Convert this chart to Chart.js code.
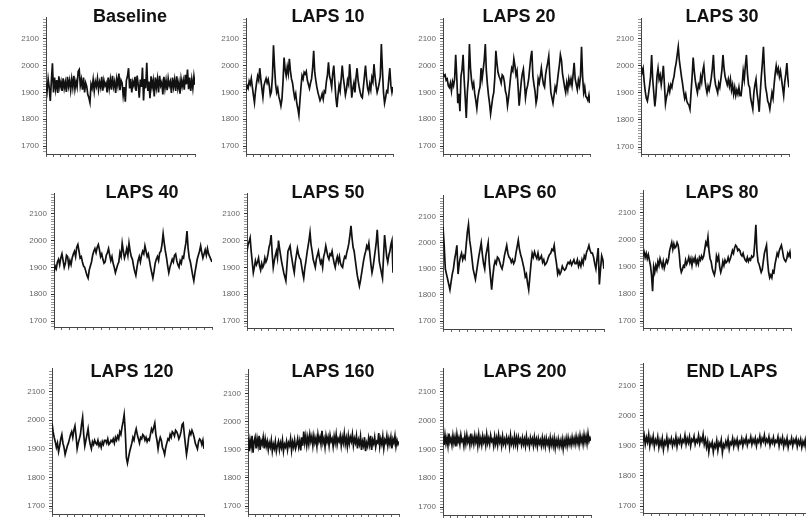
<!DOCTYPE html>
<html>
<head>
<meta charset="utf-8">
<script src="https://cdn.jsdelivr.net/npm/chart.js@4/dist/chart.umd.min.js"></script>
<style>
html,body{margin:0;padding:0;background:#fff;}
body{width:806px;height:529px;position:relative;overflow:hidden;}
.panel{position:absolute;}
.title{position:absolute;width:200px;text-align:center;font:bold 18px "Liberation Sans",Arial,sans-serif;line-height:18px;color:#111;white-space:nowrap;}
</style>
</head>
<body>
<script>
// ---------- DATA ----------
const titles = ["Baseline","LAPS 10","LAPS 20","LAPS 30","LAPS 40","LAPS 50","LAPS 60","LAPS 80","LAPS 120","LAPS 160","LAPS 200","END LAPS"];
const yTickLabels = [1700,1800,1900,2000,2100];

const baseline = [
1935,1905,1950,1918,1868,1942,2008,1900,1955,1912,1946,1898,1960,1920,1940,1905,1952,1915,1938,1902,
1958,1922,1945,1908,1950,1918,1962,1912,1940,1920,1978,1985,1925,1948,1910,1955,1900,1935,1922,1892,
1880,1862,1930,1915,1948,1905,1940,1922,1952,1910,1938,1918,1958,1906,1945,1925,1935,1900,1955,1915,
1948,1910,1962,1920,1940,1898,1950,1925,1970,1908,1945,1935,1888,1920,1865,1945,1960,1990,1915,1950,
1900,1940,1925,1958,1905,1962,1930,1880,1948,1920,1992,1870,1950,1915,2010,1905,1940,1878,1960,1920,
1945,1885,1955,1918,1950,1900,1962,1925,1938,1892,1958,1915,1945,1908,1952,1925,1940,1898,1955,1920,
1948,1905,1960,1915,1938,1895,1950,1922,1945,1910,1965,1930,1985,1912,1955,1905,1948,1915,1960,1928];

const laps10 = [
1905,1925,1915,1942,1930,1952,1920,1890,1862,1905,1935,1960,1945,1990,1950,1915,1882,1925,1940,1952,
1935,1948,1925,1890,1902,1960,2075,1995,1930,1900,1915,1885,1870,1850,1875,1940,2030,1985,1962,1995,
1970,2025,1980,1950,1935,1905,1880,1895,1860,1840,1815,1870,1920,1962,1950,1975,1968,1978,1945,1930,
1915,1935,1950,1990,2055,1975,1945,1920,1900,1885,1870,1880,1895,1875,1905,1900,1940,1965,2012,1960,
1945,1920,1970,2000,1940,1880,1845,1890,1925,1905,1950,2000,1955,1925,1890,1910,1945,1930,2005,1950,
1880,1915,1935,1900,1955,1990,1945,1920,1900,1885,1880,1920,1960,2000,1950,1915,1900,1930,1910,1955,
1940,2005,1960,1925,1900,1915,1935,1960,2080,1985,1900,1860,1880,1905,1900,1950,1990,1925,1900,1920];

const laps20 = [
1972,1960,1965,1945,1950,1925,1918,1935,1905,1940,1925,1950,2040,1960,1860,1895,1830,1960,1985,2040,
1950,1880,1805,1900,1950,2080,1990,1945,1920,1935,1895,1870,1840,1880,1905,1920,1990,1950,1985,2020,
2080,1980,1930,1890,1860,1820,1850,1880,1900,1955,2055,2010,1975,1960,1950,1935,1965,1960,1940,1905,
1890,1850,1880,1920,1960,1990,1980,2025,2000,1965,1980,1920,1850,1895,1940,1970,1987,1935,1880,1910,
1925,1950,1990,2030,2055,1960,1930,1905,1860,1880,1950,1935,1960,1990,1955,1930,1920,1965,1990,2010,
2035,1960,1900,1880,1860,1890,1920,1905,1935,1970,2000,2040,2020,1970,1945,1920,1900,1935,1910,1950,
1930,1950,1925,1965,2010,1950,1930,1910,1945,1925,1960,2070,1960,1900,1920,1885,1880,1870,1890,1860];

const laps30 = [
2000,1975,1990,1940,1905,1880,1870,1895,1925,1960,2040,1950,1900,1850,1890,1960,1990,1950,1965,1930,
1960,2000,1930,1860,1885,1900,1925,1905,1930,1920,1945,1960,1990,2010,2040,2070,2020,1990,1960,1935,
1905,1880,1895,1870,1860,1855,1840,1900,1960,2030,1980,1945,1920,1900,1930,1920,1960,1940,1980,2000,
1950,1920,1900,1925,1910,1930,1955,1990,2040,1960,1930,1915,1900,1935,1920,1950,1985,2040,1990,1960,
1945,1930,1950,1925,1950,1910,1930,1895,1920,1890,1910,1895,1920,1890,1890,1930,1980,1950,2000,2040,
1970,1930,1920,1880,1860,1840,1900,1930,1950,1900,1870,1830,1900,1960,2010,2070,1980,1920,1900,1870,
1860,1840,1870,1900,1880,1930,1970,2000,1975,1990,1960,1980,1950,1920,1890,1940,1970,2010,1950,1920];

const laps40 = [
1880,1905,1895,1920,1930,1910,1935,1950,1925,1900,1915,1945,1940,1905,1925,1910,1935,1950,1960,1940,
1975,1985,1960,1935,1940,1920,1905,1900,1885,1870,1860,1890,1905,1920,1945,1960,1970,1955,1975,1985,
1965,1940,1950,1930,1915,1920,1945,1955,1970,1945,1925,1940,1915,1900,1880,1895,1910,1920,1955,1940,
1990,1960,1935,1950,1970,1945,1990,1960,1940,1930,1905,1885,1870,1900,1925,1940,1920,1945,1960,1950,
1980,1960,1940,1950,1925,1900,1880,1860,1885,1915,1930,1940,1925,1955,1960,1985,2025,1990,1960,1935,
1905,1880,1900,1915,1930,1920,1945,1950,1925,1910,1900,1925,1915,1940,1935,1965,1990,2035,1970,1935,
1920,1895,1870,1850,1880,1905,1930,1945,1960,1980,1955,1935,1950,1965,1945,1970,1950,1940,1930,1920];

const laps50 = [
1960,1985,1995,2010,1960,1920,1880,1900,1925,1910,1920,1935,1905,1890,1915,1900,1910,1935,1920,1930,
1950,1975,1990,2020,1950,1900,1925,1945,1960,1935,2000,1970,1945,1920,1900,1880,1865,1850,1905,1960,
1970,1980,1950,1925,1900,1880,1920,1945,1970,1950,1935,1930,1905,1880,1860,1895,1920,1950,1975,2000,
2030,1985,1960,1930,1915,1900,1930,1945,1960,1935,1915,1925,1900,1940,1955,1980,1960,1940,1930,1950,
1945,1960,1935,1915,1900,1925,1940,1920,1940,1915,1905,1900,1925,1940,1935,1955,1970,1990,2020,2055,
2010,1975,1960,1930,1900,1870,1850,1830,1850,1875,1900,1925,1945,1960,1980,1970,1990,1950,1910,1880,
1900,1930,1960,1990,2040,1975,1920,1900,1880,1860,1940,2020,1980,1940,1920,1945,1960,1985,2000,1880];

const laps60 = [
2060,1990,1900,1880,1860,1840,1820,1850,1880,1900,1935,1960,1990,1880,1920,1945,1960,1935,1950,1940,
1990,2040,2070,2010,1980,1940,1900,1880,1860,1890,1920,1950,1975,2000,1955,1920,1900,1950,1975,2000,
1920,1870,1820,1870,1910,1930,1920,1945,1940,1925,1910,1900,1920,1950,1970,1990,1960,1945,1940,1925,
1935,1920,1930,1960,1985,2010,1975,1955,1940,1920,1900,1870,1880,1845,1820,1870,1920,1960,1945,1965,
1950,1940,1960,1935,1940,1950,1925,1935,1915,1920,1930,1945,1955,1960,1975,1970,1990,1950,1920,1880,
1895,1880,1890,1910,1900,1895,1900,1915,1925,1920,1930,1915,1925,1935,1920,1920,1935,1910,1925,1910,
1935,1920,1950,1940,1965,1975,1990,1970,1960,1960,1945,1920,1900,1940,1980,1840,1900,1950,1935,1900];

const laps80 = [
1940,1955,1935,1950,1930,1945,1925,1905,1870,1810,1900,1880,1905,1890,1920,1905,1930,1915,1900,1920,
1895,1910,1925,1915,1930,1960,1975,1990,1965,1985,1970,1975,1990,1980,1950,1900,1880,1890,1905,1900,
1925,1910,1920,1935,1915,1930,1905,1930,1920,1935,1910,1925,1910,1935,1925,1940,1930,1940,1965,1990,
1980,2010,1960,1930,1920,1895,1880,1870,1890,1940,1925,1940,1900,1880,1895,1920,1905,1925,1915,1920,
1935,1920,1930,1945,1960,1950,1970,1980,1975,1960,1965,1960,1945,1940,1950,1935,1925,1920,1935,1920,
1930,1925,1940,1935,1940,1990,2055,1960,1920,1910,1895,1880,1890,1920,1950,1965,1980,1920,1880,1860,
1870,1860,1885,1880,1910,1930,1950,1940,1960,1970,1980,1960,1935,1925,1920,1930,1950,1940,1955,1930];

const laps120 = [
1990,1960,1940,1925,1905,1920,1890,1910,1935,1950,1920,1905,1880,1895,1910,1920,1935,1950,1960,1940,
1965,1980,1945,1900,1920,1935,1950,1985,2010,1950,1910,1930,1950,1970,1935,1915,1900,1925,1915,1930,
1920,1915,1930,1910,1920,1905,1925,1915,1930,1930,1920,1935,1915,1920,1930,1925,1935,1920,1940,1930,
1945,1935,1960,1950,1975,1995,2020,1960,1870,1850,1870,1890,1905,1920,1940,1930,1955,1970,1950,1935,
1920,1940,1935,1950,1945,1930,1940,1925,1935,1930,1950,1970,1960,1975,1990,1950,1930,1900,1925,1940,
1930,1905,1895,1880,1905,1920,1935,1930,1950,1940,1960,1955,1945,1965,1960,1950,1935,1945,1960,1985,
1990,1950,1915,1880,1905,1940,1960,1950,1965,1955,1940,1920,1910,1900,1925,1935,1930,1915,1930,1900];

const laps160 = [
1945,1895,1935,1910,1950,1890,1930,1945,1905,1940,1915,1950,1900,1932,1920,1945,1905,1938,1912,1930,
1900,1925,1910,1935,1895,1920,1905,1930,1895,1915,1930,1900,1925,1908,1935,1895,1920,1910,1930,1900,
1925,1915,1940,1898,1928,1910,1935,1905,1920,1940,1910,1932,1898,1945,1915,1965,1925,1950,1915,1945,
1920,1955,1930,1948,1915,1950,1925,1942,1912,1955,1930,1945,1920,1968,1925,1940,1910,1950,1928,1945,
1915,1952,1930,1940,1912,1948,1925,1955,1918,1940,1930,1950,1915,1945,1925,1958,1920,1942,1912,1950,
1922,1945,1930,1955,1915,1940,1925,1950,1905,1935,1920,1948,1900,1930,1915,1945,1895,1925,1912,1942,
1918,1950,1900,1935,1922,1945,1910,1930,1925,1960,1912,1938,1920,1948,1905,1935,1925,1950,1915,1940,
1920,1945,1905,1938,1925,1950,1912,1935,1920,1930];

const laps200 = [
1945,1915,1950,1920,1940,1912,1955,1925,1938,1915,1948,1922,1942,1910,1952,1925,1940,1918,1950,1928,
1935,1912,1945,1920,1950,1925,1938,1915,1955,1922,1940,1918,1948,1925,1942,1912,1950,1920,1938,1915,
1946,1925,1940,1915,1952,1922,1938,1918,1948,1928,1935,1912,1945,1920,1940,1915,1950,1925,1938,1912,
1945,1920,1935,1915,1942,1925,1938,1910,1948,1920,1935,1915,1945,1918,1940,1912,1942,1925,1935,1915,
1940,1918,1935,1912,1945,1920,1932,1910,1940,1922,1936,1912,1942,1918,1935,1910,1938,1920,1932,1912,
1940,1915,1935,1910,1938,1918,1932,1908,1940,1915,1935,1912,1938,1905,1932,1915,1936,1910,1930,1912,
1935,1902,1932,1915,1938,1912,1940,1918,1935,1915,1942,1920,1938,1918,1945,1922,1940,1915,1948,1925,
1942,1918,1950,1925,1945,1920,1955,1928,1940,1930];

const endLaps = [
1915,1935,1905,1928,1912,1938,1900,1925,1910,1932,1898,1920,1908,1930,1895,1918,1902,1925,1888,1915,
1905,1928,1895,1920,1910,1925,1900,1918,1905,1930,1898,1922,1910,1928,1902,1920,1912,1935,1905,1925,
1910,1930,1900,1922,1915,1932,1905,1920,1912,1935,1908,1925,1915,1938,1905,1922,1895,1915,1880,1908,
1898,1912,1880,1905,1895,1918,1885,1910,1900,1920,1878,1905,1895,1915,1900,1922,1890,1912,1905,1925,
1898,1918,1905,1922,1895,1915,1908,1925,1900,1920,1910,1928,1902,1918,1912,1930,1905,1922,1910,1926,
1900,1920,1912,1932,1905,1925,1915,1935,1908,1922,1912,1930,1902,1920,1910,1928,1905,1918,1912,1930,
1900,1922,1910,1928,1898,1918,1905,1925,1895,1915,1908,1926,1900,1920,1910,1925,1898,1918,1905,1922,
1895,1915,1902,1920,1890,1912,1900,1918,1885,1910];

const seriesList = [baseline,laps10,laps20,laps30,laps40,laps50,laps60,laps80,laps120,laps160,laps200,endLaps];

// ---------- LAYOUT (pixel positions of each panel) ----------
// axisX, right, top, y2100, y1700, bottom, titleCx, titleBase
const layout = [
[46,195,17,38,146,154,130,22],
[246,393,18,38,146,154,328,22],
[443,590,18,38,146,154,519,22],
[641,789,18,38,147,154,722,22],
[54,212,193,213,321,327,142,198],
[247,393,193,213,321,328,328,198],
[443,604,195,216,321,329,520,198],
[643,791,190,212,321,328,722,198],
[52,204,368,391,506,514,132,377],
[248,399,369,393,506,514,333,377],
[443,591,368,391,507,515,525,377],
[643,812,363,385,506,513,732,377]
];

const YW = 40, XH = 14, PT = 8, PR = 4;

layout.forEach((L, k) => {
  const [ax, right, top, y2100, y1700, bottom, tcx, tb] = L;
  const ppu = (y1700 - y2100) / 400;
  const yMin = 1700 - (bottom - y1700) / ppu;
  const yMax = 2100 + (y2100 - top) / ppu;

  const div = document.createElement('div');
  div.className = 'panel';
  div.style.left = (ax - YW) + 'px';
  div.style.top = (top - PT) + 'px';
  div.style.width = (right - ax + YW + PR) + 'px';
  div.style.height = (bottom - top + PT + XH) + 'px';
  const cv = document.createElement('canvas');
  div.appendChild(cv);
  document.body.appendChild(div);

  const t = document.createElement('div');
  t.className = 'title';
  t.textContent = titles[k];
  t.style.left = (tcx - 100) + 'px';
  t.style.top = (tb - 15) + 'px';
  document.body.appendChild(t);

  const vals = seriesList[k];
  const n = vals.length;
  const pts = vals.map((v, i) => ({x: i, y: v}));

  new Chart(cv, {
    type: 'line',
    data: { datasets: [{ data: pts, borderColor: '#111', borderWidth: 1.7, pointRadius: 0, tension: 0, fill: false, borderJoinStyle: 'miter' }] },
    options: {
      responsive: true, maintainAspectRatio: false, animation: false,
      layout: { padding: { top: PT, right: PR, left: 0, bottom: 0 } },
      plugins: { legend: { display: false }, tooltip: { enabled: false }, title: { display: false } },
      scales: {
        x: {
          type: 'linear', min: 0, max: n - 1,
          afterBuildTicks: (s) => {
            const arr = [];
            for (let j = 0; j <= 20; j++) arr.push({ value: (n - 1) * j / 20 });
            s.ticks = arr;
          },
          afterFit: (s) => { s.height = XH; },
          ticks: { display: false },
          grid: { drawOnChartArea: false, drawTicks: true, tickLength: 3, color: '#666', lineWidth: 1 },
          border: { display: true, color: '#444', width: 1 }
        },
        y: {
          type: 'linear', min: yMin, max: yMax,
          afterBuildTicks: (s) => {
            const arr = [];
            for (let v = 1670; v <= 2170; v += 10) if (v >= yMin && v <= yMax) arr.push({ value: v });
            s.ticks = arr;
          },
          afterFit: (s) => { s.width = YW; },
          ticks: {
            autoSkip: false, padding: 4, color: '#666',
            font: { size: 8, family: '"Liberation Sans", Arial, sans-serif' },
            callback: (v) => yTickLabels.includes(v) ? String(v) : ''
          },
          grid: {
            drawOnChartArea: false, drawTicks: true, tickLength: 3, lineWidth: 1,
            color: (c) => (c.tick && yTickLabels.includes(c.tick.value)) ? '#333' : '#999'
          },
          border: { display: true, color: '#444', width: 1 }
        }
      }
    }
  });
});
</script>
</body>
</html>
